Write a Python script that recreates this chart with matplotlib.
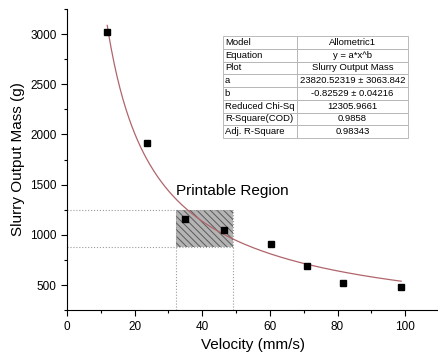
import numpy as np
import matplotlib
matplotlib.use('Agg')
import matplotlib.pyplot as plt
from matplotlib.patches import Rectangle
from matplotlib.ticker import MultipleLocator

plt.rcParams['font.family'] = ['Liberation Sans', 'DejaVu Sans']
plt.rcParams['hatch.linewidth'] = 0.7

# measured points
velocity = [11.9, 23.8, 34.8, 46.4, 60.2, 70.9, 81.5, 98.8]
mass = [3020, 1915, 1155, 1048, 908, 692, 523, 483]

# allometric fit y = a*x^b (values from the fit table)
a_fit = 23820.52319
b_fit = -0.82529

# printable region
region_x = [32.2, 49.0]
region_y = [875, 1250]

table_rows = [
    ['Model', 'Allometric1'],
    ['Equation', 'y = a*x^b'],
    ['Plot', 'Slurry Output Mass'],
    ['a', '23820.52319 \u00b1 3063.842'],
    ['b', '-0.82529 \u00b1 0.04216'],
    ['Reduced Chi-Sq', '12305.9661'],
    ['R-Square(COD)', '0.9858'],
    ['Adj. R-Square', '0.98343'],
]

fig = plt.figure(figsize=(4.39, 3.59), dpi=100)
ax = fig.add_axes([0.1526, 0.1362, 0.8474, 0.839])

# fit curve
xf = np.linspace(velocity[0], velocity[-1], 300)
ax.plot(xf, a_fit * xf ** b_fit, color='#b0656b', lw=0.9, zorder=3)

# printable region box
ax.add_patch(Rectangle((region_x[0], region_y[0]), region_x[1] - region_x[0],
                       region_y[1] - region_y[0], facecolor='#b4b4b4',
                       edgecolor='#5a5a5a', hatch='\\\\\\\\\\', lw=0, zorder=1))
for yy in region_y:
    ax.plot([0, region_x[1]], [yy, yy], ls=':', color='#9a9a9a', lw=0.8, zorder=2)
for xx in region_x:
    ax.plot([xx, xx], [250, region_y[1]], ls=':', color='#9a9a9a', lw=0.8, zorder=2)
ax.text(region_x[0], 1370, 'Printable Region', fontsize=11,
        ha='left', va='bottom', zorder=4)

ax.plot(velocity, mass, 's', color='black', ms=4.5, zorder=5)

ax.set_xlim(0, 110)
ax.set_ylim(250, 3250)
ax.xaxis.set_major_locator(MultipleLocator(20))
ax.xaxis.set_minor_locator(MultipleLocator(10))
ax.yaxis.set_major_locator(MultipleLocator(500))
ax.yaxis.set_minor_locator(MultipleLocator(250))
ax.set_yticks([500, 1000, 1500, 2000, 2500, 3000])
ax.spines['top'].set_visible(False)
ax.spines['right'].set_visible(False)
ax.tick_params(which='both', direction='out', labelsize=8.5, width=0.8)
ax.tick_params(which='major', length=4)
ax.tick_params(which='minor', length=2.5)
ax.set_xlabel('Velocity (mm/s)', fontsize=11, labelpad=4)
ax.set_ylabel('Slurry Output Mass (g)', fontsize=11, labelpad=4)

tbl = ax.table(cellText=table_rows, colWidths=[0.4, 0.6],
               bbox=[0.4185, 0.5714, 0.4982, 0.3386], zorder=6)
tbl.auto_set_font_size(False)
for (r, c), cell in tbl.get_celld().items():
    cell.set_edgecolor('#b0b0b0')
    cell.set_linewidth(0.6)
    cell.set_facecolor('white')
    cell.get_text().set_fontsize(6.8)
    if c == 0:
        cell.get_text().set_ha('left')
        cell.PAD = 0.03
    else:
        cell.get_text().set_ha('center')

fig.savefig('out.png', dpi=100)
